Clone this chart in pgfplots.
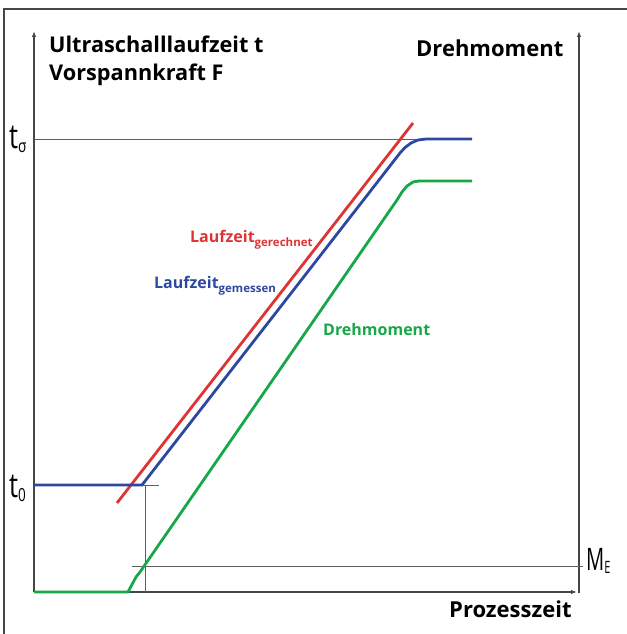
\documentclass[border=0pt]{standalone}
\usepackage{fontspec}
\setmainfont{Open Sans}
\usepackage{pgfplots}
\pgfplotsset{compat=1.18}
\usetikzlibrary{arrows.meta}
\definecolor{cred}{RGB}{222,52,52}
\definecolor{cblue}{RGB}{44,72,160}
\definecolor{cgreen}{RGB}{22,168,72}
\definecolor{cgray}{RGB}{95,95,95}
\definecolor{caxis}{RGB}{70,70,70}
\begin{document}
\begin{tikzpicture}
\begin{axis}[
  width=627bp, height=634bp, scale only axis,
  xmin=0, xmax=627, ymin=0, ymax=634, y dir=reverse,
  hide axis, clip=false]
% frame
\addplot[caxis, line width=1.4bp] coordinates {(4,634) (4,9) (627,9)};
% axes
\addplot[caxis, line width=1.2bp, -{Latex[length=6bp,width=4.5bp]}] coordinates {(34,592) (34,31)};
\addplot[caxis, line width=1.2bp, -{Latex[length=6bp,width=4.5bp]}] coordinates {(579,593) (579,31)};
\addplot[caxis, line width=1.2bp, -{Latex[length=6bp,width=4.5bp]}] coordinates {(34,592) (577,592)};
% helper lines
\addplot[cgray, line width=0.9bp] coordinates {(34,139) (425,139)};
\addplot[cgray, line width=0.9bp] coordinates {(140,485) (159,485)};
\addplot[cgray, line width=0.9bp] coordinates {(145,485) (145,592)};
\addplot[cgray, line width=0.9bp] coordinates {(132,566) (583,566)};
% curves
\addplot[cred, line width=2.8bp] coordinates {(117,503) (413,123)};
\addplot[cblue, line width=2.8bp] coordinates {(34,485) (142,485) (400,153) (405,147.5) (411,143) (418,140) (426,139) (472,139)};
\addplot[cgreen, line width=2.8bp] coordinates {(34,592) (128,592) (136,577) (140,572) (397,200) (402,192) (407,186) (413,182) (419,181) (472,181)};
% labels
\node[anchor=base west, inner sep=0pt, font=\bfseries\fontsize{21.7bp}{25bp}\selectfont] at (axis cs:49,53) {Ultraschalllaufzeit t};
\node[anchor=base west, inner sep=0pt, font=\bfseries\fontsize{21.7bp}{25bp}\selectfont] at (axis cs:49,81) {Vorspannkraft F};
\node[anchor=base west, inner sep=0pt, font=\bfseries\fontsize{22bp}{25bp}\selectfont] at (axis cs:416,57) {Drehmoment};
\node[anchor=base west, inner sep=0pt, font=\bfseries\fontsize{22bp}{25bp}\selectfont] at (axis cs:449,617) {Prozesszeit};
\node[anchor=base west, inner sep=0pt, font=\fontsize{34bp}{38bp}\selectfont, xscale=0.75] at (axis cs:9,148) {t\raisebox{-0.12em}{\fontsize{18bp}{20bp}\selectfont σ}};
\node[anchor=base west, inner sep=0pt, font=\fontsize{34bp}{38bp}\selectfont, xscale=0.75] at (axis cs:9,497) {t\raisebox{-0.12em}{\fontsize{18bp}{20bp}\selectfont 0}};
\node[anchor=base west, inner sep=0pt, font=\fontsize{31bp}{35bp}\selectfont, xscale=0.65] at (axis cs:586,570) {M\raisebox{-0.12em}{\fontsize{17bp}{19bp}\selectfont E}};
\node[anchor=base west, inner sep=0pt, text=cred, font=\bfseries\fontsize{16bp}{18bp}\selectfont] at (axis cs:190,242) {Laufzeit\raisebox{-0.3em}{\fontsize{11.5bp}{13bp}\selectfont gerechnet}};
\node[anchor=base west, inner sep=0pt, text=cblue, font=\bfseries\fontsize{16bp}{18bp}\selectfont] at (axis cs:154,288) {Laufzeit\raisebox{-0.3em}{\fontsize{11.5bp}{13bp}\selectfont gemessen}};
\node[anchor=base west, inner sep=0pt, text=cgreen, font=\bfseries\fontsize{16bp}{18bp}\selectfont] at (axis cs:323,335) {Drehmoment};
\end{axis}
\pgfresetboundingbox
\path (current axis.south west) rectangle (current axis.north east);
\end{tikzpicture}
\end{document}
